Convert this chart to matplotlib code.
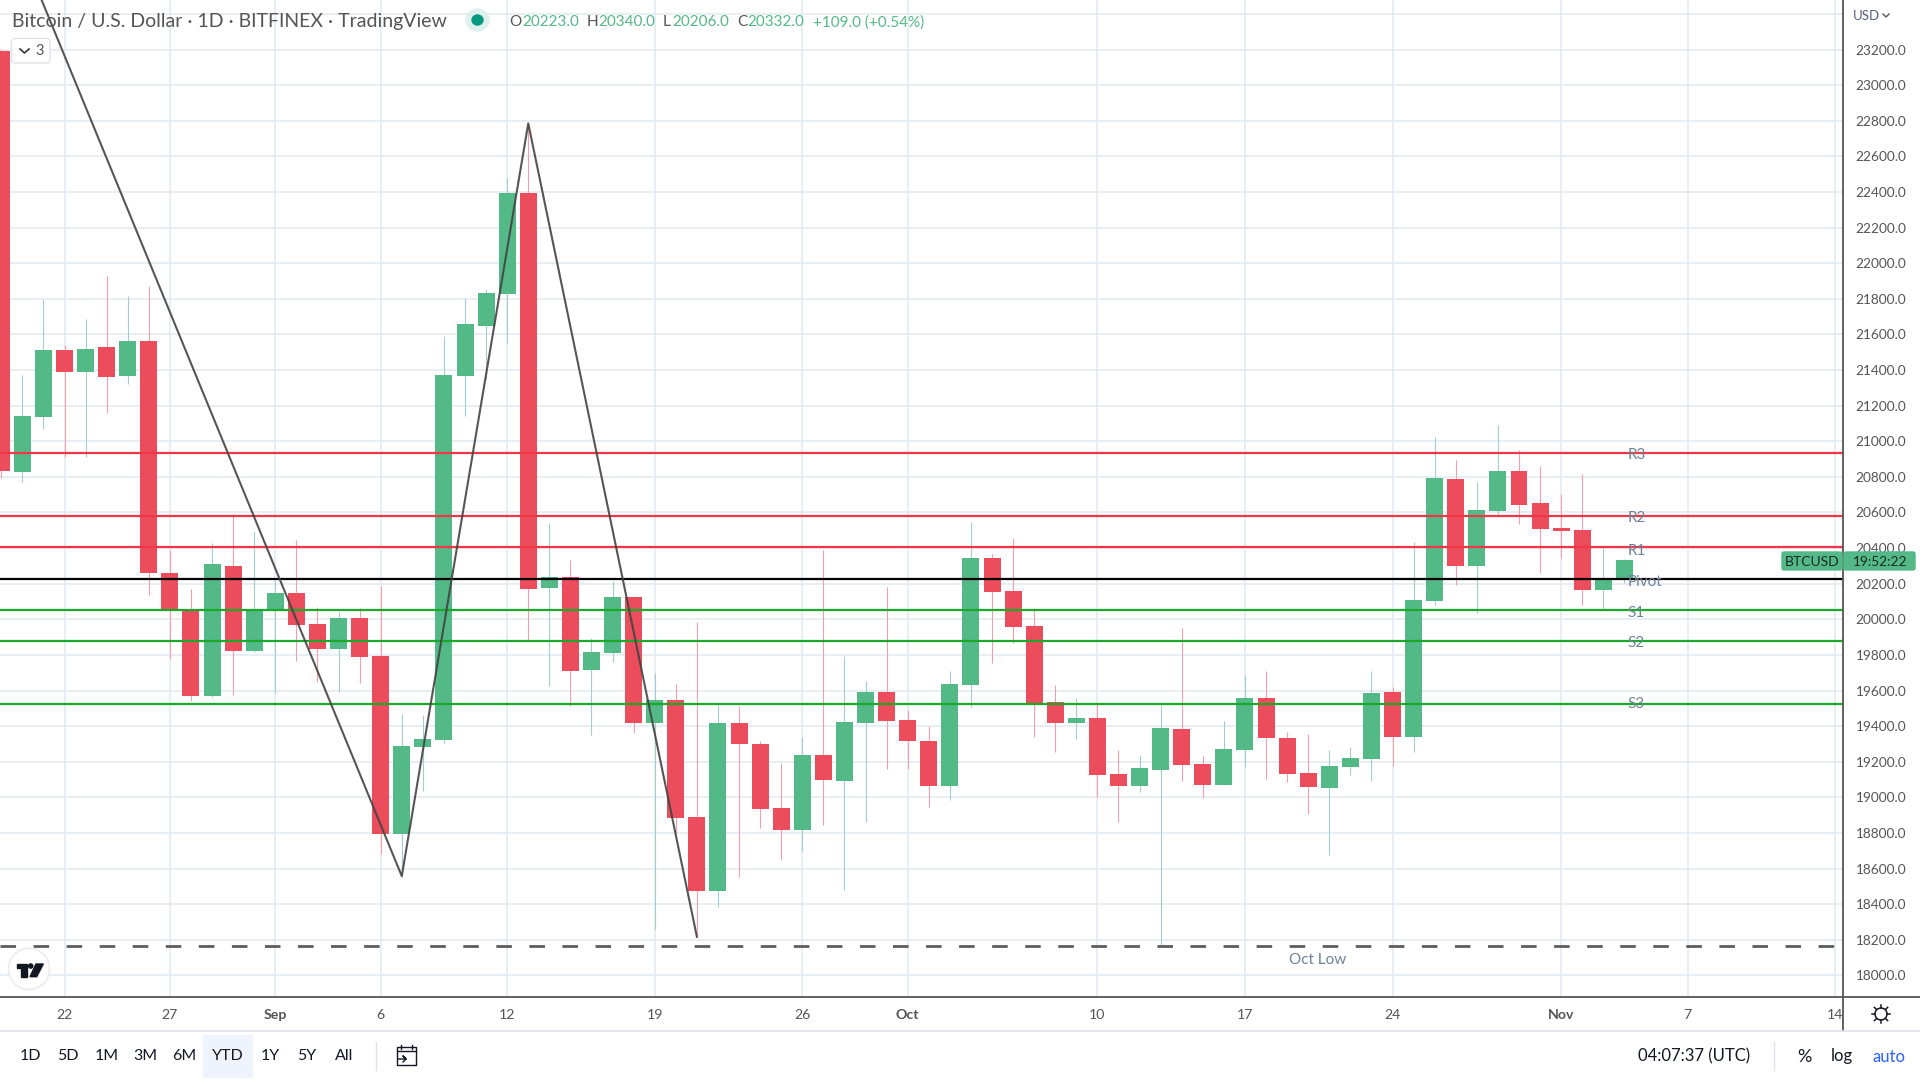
"""Bitcoin / U.S. Dollar daily candles with pivot levels, TradingView style."""

import matplotlib

matplotlib.use("Agg")
import matplotlib.pyplot as plt
from matplotlib.patches import Circle, Ellipse, FancyBboxPatch, Polygon, Rectangle

plt.rcParams["font.family"] = ["Lato", "DejaVu Sans"]

# candles, day 0 is 22 Aug
days = list(range(-3, 75))
opens = [23193, 20829, 21138, 21512, 21390, 21529, 21368, 21563, 20262, 20052,
         19571, 20299, 19824, 20056, 20147, 19973, 19835, 20007, 19794, 18796,
         19282, 19322, 21368, 21649, 21829, 22396, 20176, 20237, 19715, 19810,
         20125, 19420, 19547, 18890, 18476, 19418, 19300, 18940, 18817, 19238,
         19092, 19418, 19592, 19434, 19317, 19064, 19631, 20344, 20159, 19962,
         19536, 19418, 19446, 19131, 19064, 19154, 19384, 19187, 19069, 19266,
         19558, 19333, 19136, 19052, 19170, 19215, 19591, 19339, 20102, 20787,
         20299, 20608, 20832, 20653, 20512, 20501, 20164, 20223]
closes = [20835, 21142, 21512, 21390, 21518, 21362, 21563, 20262, 20058, 19571,
          20310, 19824, 20056, 20147, 19968, 19835, 20007, 19790, 18796, 19288,
          19327, 21372, 21658, 21831, 22396, 20170, 20237, 19711, 19816, 20125,
          19420, 19547, 18886, 18476, 19418, 19300, 18936, 18817, 19238, 19097,
          19423, 19592, 19429, 19317, 19064, 19637, 20344, 20153, 19957, 19528,
          19418, 19446, 19126, 19064, 19165, 19390, 19182, 19069, 19272, 19558,
          19333, 19131, 19058, 19176, 19221, 19586, 19339, 20108, 20793, 20299,
          20613, 20832, 20641, 20507, 20495, 20164, 20226, 20332]
highs = [23198, 21372, 21799, 21540, 21686, 21928, 21816, 21872, 20389, 20170,
         20428, 20591, 20496, 20220, 20445, 20069, 20041, 20063, 20187, 19468,
         19462, 21591, 21803, 21855, 22480, 22789, 20541, 20333, 19895, 20215,
         20125, 19698, 19637, 19985, 19519, 19513, 19317, 19193, 19339, 20389,
         19794, 19653, 20181, 19491, 19401, 19710, 20546, 20367, 20457, 20063,
         19631, 19558, 19524, 19266, 19238, 19519, 19951, 19232, 19429, 19687,
         19710, 19367, 19355, 19266, 19282, 19709, 19619, 20434, 21023, 20894,
         20770, 21091, 20950, 20860, 20703, 20815, 20400, 20340]
lows = [20795, 20773, 21068, 20913, 20913, 21160, 21321, 20136, 19777, 19543,
        19565, 19575, 19816, 19588, 19767, 19650, 19593, 19644, 18681, 18554,
        19037, 19307, 21141, 21350, 21554, 19883, 19625, 19515, 19350, 19760,
        19359, 18262, 18798, 18221, 18386, 18554, 18830, 18648, 18699, 18845,
        18480, 18861, 19159, 19159, 18948, 18985, 19507, 19755, 19867, 19339,
        19255, 19328, 19002, 18861, 19030, 18165, 19092, 18996, 19069, 19170,
        19103, 19086, 18906, 18676, 19125, 19091, 19176, 19254, 20080, 20192,
        20035, 20585, 20535, 20259, 20344, 20080, 20057, 20206]

# pivot levels
level_names = ["R3", "R2", "R1", "Pivot", "S1", "S2", "S3"]
level_prices = [20935, 20581, 20407, 20226, 20052, 19879, 19526]
level_colors = ["#f23645", "#f23645", "#f23645", "#000000", "#1aa928", "#1aa928", "#1aa928"]
level_label_prices = [20920, 20570, 20384, 20209, 20034, 19867, 19527]
oct_low = 18163

# zigzag drawing
zigzag_days = [-2, 16, 22, 30]
zigzag_prices = [23741, 18558, 22785, 18217]

# axes labels
price_ticks = list(range(18000, 23600, 200))
date_ticks = [0, 5, 10, 15, 21, 28, 35, 40, 49, 56, 63, 71, 77, 84]
date_labels = ["22", "27", "Sep", "6", "12", "19", "26", "Oct", "10", "17", "24", "Nov", "7", "14"]
range_buttons = ["1D", "5D", "1M", "3M", "6M", "YTD", "1Y", "5Y", "All"]
range_button_x = [30.6, 67.8, 106.5, 145, 184, 228, 270, 307, 344]

GREEN = "#53b987"
RED = "#eb4d5c"
GRID = "#e1ebf1"
AXIS = "#555555"
LABEL = "#6f8296"

fig = plt.figure(figsize=(19.2, 10.8), dpi=100, facecolor="white")
ax = fig.add_axes([0, 83 / 1080, 1843 / 1920, 997 / 1080])
ax.set_xlim(-3.06, 84.37)
ax.set_ylim(17879, 23478)

up = [c >= o for o, c in zip(opens, closes)]
ax.vlines(days, lows, highs,
          colors=["#a3cdca" if u else "#f59fa9" for u in up], lw=0.8, zorder=2)
ax.bar(days, [abs(c - o) for o, c in zip(opens, closes)],
       bottom=[min(o, c) for o, c in zip(opens, closes)], width=0.806,
       color=[GREEN if u else RED for u in up], zorder=3)

for price, color in zip(level_prices, level_colors):
    ax.axhline(price, color=color, lw=1.6, zorder=4)
for name, price in zip(level_names, level_label_prices):
    ax.text(74.16, price, name, color=LABEL, fontsize=11, ha="left", va="center", zorder=6)

ax.axhline(oct_low, color="#5d5d5d", lw=2.0, dashes=(5.6, 6.3), zorder=4)
ax.text(59.43, 18085, "Oct Low", color=LABEL, fontsize=11, ha="center", va="center", zorder=6)
ax.plot(zigzag_days, zigzag_prices, color="#444444", lw=1.5, alpha=0.9, zorder=5)

ax.set_yticks(price_ticks)
ax.set_yticklabels([f"{p}.0" if p < 23400 else "" for p in price_ticks])
ax.set_xticks(date_ticks)
ax.set_xticklabels(date_labels)
ax.yaxis.tick_right()
ax.tick_params(axis="y", length=0, pad=9, labelsize=9.8, labelcolor=AXIS)
ax.tick_params(axis="x", length=0, pad=8.6, labelsize=10.2, labelcolor=AXIS)
for label in ax.get_xticklabels():
    if label.get_text() in ("Sep", "Oct", "Nov"):
        label.set_fontweight("bold")
ax.grid(True, color=GRID, lw=1.1, zorder=0)
ax.set_axisbelow(True)
for name in ("top", "left", "bottom", "right"):
    ax.spines[name].set_visible(False)

# chrome around the plot, in pixels
top = fig.add_axes([0, 0, 1, 1], facecolor="none")
top.set_xlim(0, 1920)
top.set_ylim(1080, 0)
top.axis("off")

top.plot([0, 1920], [997, 997], color=AXIS, lw=1.3)
top.plot([1843, 1843], [0, 1031], color=AXIS, lw=1.3)
top.plot([0, 1920], [1031, 1031], color="#e0e3eb", lw=1.3)

top.text(12, 22, "Bitcoin / U.S. Dollar · 1D · BITFINEX · TradingView",
         color="#555555", fontsize=14, ha="left", va="center")
top.add_patch(Ellipse((477.5, 20), 23, 22, color="#dff1ee"))
top.add_patch(Ellipse((477.5, 20), 11, 10, color="#089981"))

ohlc = [("O", "20223.0", 509, 522), ("H", "20340.0", 586.5, 598.5),
        ("L", "20206.0", 663, 672), ("C", "20332.0", 737, 747)]
for letter, value, x, value_x in ohlc:
    top.text(x, 22.5, letter, color="#555555", fontsize=11, ha="left", va="center")
    top.text(value_x, 22.5, value, color=GREEN, fontsize=11, ha="left", va="center")
top.text(813, 22.5, "+109.0 (+0.54%)", color=GREEN, fontsize=11, ha="left", va="center")

# collapsed indicators button
top.add_patch(FancyBboxPatch((11.5, 38.5), 38.5, 24.5, boxstyle="round,pad=0,rounding_size=3",
                             fc="white", ec="#dfe3ea", lw=1))
top.plot([20, 24.5, 29], [49, 53, 49], color="#333333", lw=1.2)
top.text(40, 51, "3", color="#555555", fontsize=10.5, ha="center", va="center")

# logo
top.add_patch(Circle((29, 969), 20.6, fc="white", ec="#ececec", lw=1.2, zorder=7))
top.add_patch(Polygon([(16.7, 964), (27.3, 964), (27.3, 976.7), (20.7, 976.7), (20.7, 968), (16.7, 968)],
                      color="#131722", zorder=8))
top.add_patch(Circle((30.7, 966), 2.1, color="#131722", zorder=8))
top.add_patch(Polygon([(36, 964), (43.3, 964), (36.7, 976.7), (30, 976.7)], color="#131722", zorder=8))

# price tag
top.add_patch(FancyBboxPatch((1782, 552), 60, 18, boxstyle="round,pad=0,rounding_size=2",
                             fc=GREEN, ec=GREEN, lw=1, zorder=8))
top.add_patch(FancyBboxPatch((1844, 552), 71, 18, boxstyle="round,pad=0,rounding_size=2",
                             fc=GREEN, ec=GREEN, lw=1, zorder=8))
top.text(1812, 561.5, "BTCUSD", color="#1a2a26", fontsize=10, ha="center", va="center", zorder=9)
top.text(1880, 561.5, "19:52:22", color="#1a2a26", fontsize=9.8, ha="center", va="center", zorder=9)

top.text(1853, 16, "USD", color="#555e80", fontsize=9.5, ha="left", va="center")
top.plot([1883, 1886, 1889], [14, 17, 14], color="#555555", lw=1)

# range buttons
top.add_patch(Rectangle((203, 1035), 49, 42, color="#eff3fb"))
for name, x in zip(range_buttons, range_button_x):
    top.text(x, 1056.5, name, color="#131722", fontsize=11.5, ha="center", va="center")
top.plot([375.5, 375.5], [1042, 1070], color="#e0e3eb", lw=1)

# go to date icon
top.plot([406, 397, 397, 416, 416, 407], [1065, 1065, 1047, 1047, 1065, 1065], color="#131722", lw=1)
top.plot([397, 416], [1051, 1051], color="#131722", lw=1)
top.plot([401, 401], [1045, 1049], color="#131722", lw=1)
top.plot([412, 412], [1045, 1049], color="#131722", lw=1)
top.plot([398, 406, 403, 406, 403], [1059, 1059, 1056, 1059, 1062], color="#131722", lw=1)

top.text(1694, 1056.5, "04:07:37 (UTC)", color="#131722", fontsize=12, ha="center", va="center")
top.plot([1774, 1774], [1042, 1070], color="#e0e3eb", lw=1)
top.text(1804, 1057.5, "%", color="#131722", fontsize=13, ha="center", va="center")
top.text(1842, 1056.5, "log", color="#131722", fontsize=12, ha="center", va="center")
top.text(1889, 1056.5, "auto", color="#2962ff", fontsize=12, ha="center", va="center")

# settings icon
top.add_patch(Circle((1881, 1014), 6, fc="white", ec="#131722", lw=1.1))
for dx, dy in [(0, -8), (0, 8), (-8, 0), (8, 0), (-6, -6), (6, -6), (-6, 6), (6, 6)]:
    top.plot([1881 + dx * 0.8, 1881 + dx * 1.1], [1014 + dy * 0.8, 1014 + dy * 1.1], color="#131722", lw=1.1)

fig.savefig("out.png", dpi=100)
plt.close(fig)
